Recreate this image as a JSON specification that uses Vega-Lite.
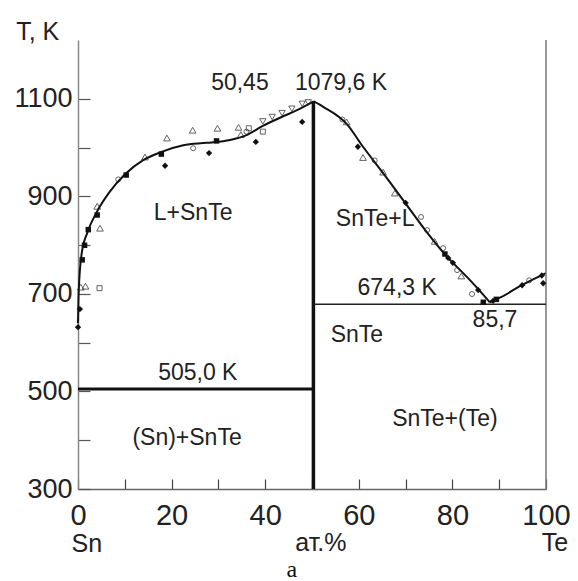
{
  "$schema": "https://vega.github.io/schema/vega-lite/v6.json",
  "width": 468,
  "height": 449,
  "autosize": "none",
  "padding": {"left": 78, "top": 40, "right": 32, "bottom": 92},
  "background": "white",
  "config": {"view": {"stroke": null}, "font": "Liberation Sans"},
  "datasets": {
    "curves": [
      {"seg": "L", "i": 0, "x": 0, "T": 640},
      {"seg": "L", "i": 1, "x": 0.15, "T": 705},
      {"seg": "L", "i": 2, "x": 0.8, "T": 784},
      {"seg": "L", "i": 3, "x": 2, "T": 826},
      {"seg": "L", "i": 4, "x": 4, "T": 868},
      {"seg": "L", "i": 5, "x": 6.8, "T": 910},
      {"seg": "L", "i": 6, "x": 10, "T": 945},
      {"seg": "L", "i": 7, "x": 14, "T": 975},
      {"seg": "L", "i": 8, "x": 18, "T": 992},
      {"seg": "L", "i": 9, "x": 22.5, "T": 1005},
      {"seg": "L", "i": 10, "x": 27.5, "T": 1010},
      {"seg": "L", "i": 11, "x": 32.5, "T": 1016},
      {"seg": "L", "i": 12, "x": 36, "T": 1026},
      {"seg": "L", "i": 13, "x": 39.5, "T": 1045},
      {"seg": "L", "i": 14, "x": 43.5, "T": 1063},
      {"seg": "L", "i": 15, "x": 46.8, "T": 1077},
      {"seg": "L", "i": 16, "x": 50.4, "T": 1095},
      {"seg": "R", "i": 0, "x": 50.4, "T": 1095},
      {"seg": "R", "i": 1, "x": 52.4, "T": 1084},
      {"seg": "R", "i": 2, "x": 57.5, "T": 1048},
      {"seg": "R", "i": 3, "x": 60.9, "T": 1002},
      {"seg": "R", "i": 4, "x": 65.2, "T": 948},
      {"seg": "R", "i": 5, "x": 69.9, "T": 887},
      {"seg": "R", "i": 6, "x": 74.6, "T": 826},
      {"seg": "R", "i": 7, "x": 78.8, "T": 777},
      {"seg": "R", "i": 8, "x": 83.1, "T": 735},
      {"seg": "R", "i": 9, "x": 85.9, "T": 706},
      {"seg": "R", "i": 10, "x": 88.0, "T": 683},
      {"seg": "Te", "i": 0, "x": 88.0, "T": 683},
      {"seg": "Te", "i": 1, "x": 90.5, "T": 694},
      {"seg": "Te", "i": 2, "x": 94.4, "T": 716},
      {"seg": "Te", "i": 3, "x": 100, "T": 743}
    ],
    "rules": [
      {"name": "frame", "x": 100, "x2": 100, "T": 300, "T2": 1221},
      {"name": "snte", "x": 50.3, "x2": 50.3, "T": 300, "T2": 1095},
      {"name": "eut1", "x": 0, "x2": 50.3, "T": 505, "T2": 505},
      {"name": "eut2", "x": 50.3, "x2": 100, "T": 679, "T2": 679}
    ],
    "points": [
      {"kind": "tri_open", "x": 19, "T": 1020},
      {"kind": "tri_open", "x": 24.5, "T": 1036},
      {"kind": "tri_open", "x": 29.8, "T": 1040},
      {"kind": "tri_open", "x": 34.3, "T": 1042},
      {"kind": "tri_open", "x": 4.7, "T": 835},
      {"kind": "tri_open", "x": 1.6, "T": 716},
      {"kind": "tri_open", "x": 0.6, "T": 714},
      {"kind": "tri_open", "x": 14.3, "T": 981},
      {"kind": "tri_open", "x": 4.1, "T": 880},
      {"kind": "tri_open", "x": 57.4, "T": 1053},
      {"kind": "tri_open", "x": 60.9, "T": 980},
      {"kind": "tri_open", "x": 65.2, "T": 950},
      {"kind": "tri_open", "x": 67.7, "T": 907},
      {"kind": "tri_open", "x": 76.2, "T": 808},
      {"kind": "tri_open", "x": 81.9, "T": 737},
      {"kind": "tri_open", "x": 34.8, "T": 1027},
      {"kind": "dia_fill", "x": 18.6, "T": 963},
      {"kind": "dia_fill", "x": 28, "T": 989},
      {"kind": "dia_fill", "x": 38, "T": 1012},
      {"kind": "dia_fill", "x": 47.9, "T": 1053},
      {"kind": "dia_fill", "x": 0, "T": 632},
      {"kind": "dia_fill", "x": 0.4, "T": 669},
      {"kind": "dia_fill", "x": 59.8, "T": 1002},
      {"kind": "dia_fill", "x": 70, "T": 887},
      {"kind": "dia_fill", "x": 79.1, "T": 774},
      {"kind": "dia_fill", "x": 80.1, "T": 764},
      {"kind": "dia_fill", "x": 85.5, "T": 708},
      {"kind": "dia_fill", "x": 88.7, "T": 686},
      {"kind": "dia_fill", "x": 94.9, "T": 718},
      {"kind": "dia_fill", "x": 99.4, "T": 722},
      {"kind": "dia_fill", "x": 99.1, "T": 738},
      {"kind": "sq_fill", "x": 4.1, "T": 862},
      {"kind": "sq_fill", "x": 2.2, "T": 832},
      {"kind": "sq_fill", "x": 1.4, "T": 800},
      {"kind": "sq_fill", "x": 0.9, "T": 770},
      {"kind": "sq_fill", "x": 10.3, "T": 944},
      {"kind": "sq_fill", "x": 17.8, "T": 987},
      {"kind": "sq_fill", "x": 29.6, "T": 1014},
      {"kind": "sq_fill", "x": 78.4, "T": 782},
      {"kind": "sq_fill", "x": 86.6, "T": 683},
      {"kind": "sq_fill", "x": 89.4, "T": 689},
      {"kind": "circ_open", "x": 8.6, "T": 935},
      {"kind": "circ_open", "x": 24.6, "T": 999},
      {"kind": "circ_open", "x": 36, "T": 1033},
      {"kind": "circ_open", "x": 63.4, "T": 974},
      {"kind": "circ_open", "x": 73.3, "T": 858},
      {"kind": "circ_open", "x": 74.6, "T": 831},
      {"kind": "circ_open", "x": 78, "T": 794},
      {"kind": "circ_open", "x": 81, "T": 749},
      {"kind": "circ_open", "x": 84.2, "T": 700},
      {"kind": "circ_open", "x": 96.4, "T": 728},
      {"kind": "circ_open", "x": 56.5, "T": 1058},
      {"kind": "sq_open", "x": 4.6, "T": 712},
      {"kind": "sq_open", "x": 39.5, "T": 1033},
      {"kind": "sq_open", "x": 36.5, "T": 1040},
      {"kind": "tri_down", "x": 39.5, "T": 1054},
      {"kind": "tri_down", "x": 41.5, "T": 1063},
      {"kind": "tri_down", "x": 43.6, "T": 1071},
      {"kind": "tri_down", "x": 45.7, "T": 1080},
      {"kind": "tri_down", "x": 47.9, "T": 1090},
      {"kind": "tri_down", "x": 49.2, "T": 1093}
    ],
    "labels": [
      {"grp": "in", "text": "50,45", "x": 34.6, "T": 1118},
      {"grp": "in", "text": "1079,6 K", "x": 56.2, "T": 1118},
      {"grp": "in", "text": "L+SnTe", "x": 24.6, "T": 852},
      {"grp": "in", "text": "SnTe+L", "x": 63.5, "T": 839},
      {"grp": "in", "text": "674,3 K", "x": 68.2, "T": 698},
      {"grp": "in", "text": "85,7", "x": 89.1, "T": 632},
      {"grp": "in", "text": "SnTe", "x": 59.6, "T": 601},
      {"grp": "in", "text": "505,0 K", "x": 25.6, "T": 524},
      {"grp": "in", "text": "(Sn)+SnTe", "x": 23.3, "T": 390},
      {"grp": "in", "text": "SnTe+(Te)", "x": 78.4, "T": 429},
      {"grp": "out", "text": "T, K", "x": -8.6, "T": 1221},
      {"grp": "out", "text": "Sn", "x": 1.9, "T": 170},
      {"grp": "out", "text": "ат.%", "x": 51.9, "T": 172},
      {"grp": "out", "text": "Te", "x": 101.9, "T": 172},
      {"grp": "serif", "text": "a", "x": 45.7, "T": 120}
    ]
  },
  "encoding": {
    "x": {"field": "x", "type": "quantitative", "scale": {"domain": [0, 100], "nice": false, "zero": false}},
    "y": {"field": "T", "type": "quantitative", "scale": {"domain": [300, 1221], "nice": false, "zero": false}}
  },
  "layer": [
    {
      "data": {"name": "curves"},
      "mark": {"type": "line", "interpolate": "monotone", "color": "#111", "strokeWidth": 2},
      "encoding": {
        "x": {"field": "x", "type": "quantitative",
          "axis": {"values": [0, 10, 20, 30, 40, 50, 60, 70, 80, 90, 100], "labelExpr": "datum.value % 20 == 0 ? datum.value : ''",
            "tickSize": -10, "labelPadding": 22, "labelFontSize": 29, "labelColor": "#222", "labelFlush": false, "labelOverlap": false,
            "domainColor": "#666", "domainWidth": 1.5, "tickColor": "#444", "tickWidth": 1.2, "title": null, "grid": false}},
        "y": {"field": "T", "type": "quantitative",
          "axis": {"values": [300, 400, 500, 600, 700, 800, 900, 1000, 1100], "labelExpr": "datum.value % 200 == 100 ? datum.value : ''",
            "tickSize": -12, "labelPadding": 18, "labelFontSize": 27, "labelColor": "#222", "labelOverlap": false,
            "domainColor": "#888", "domainWidth": 1.5, "tickColor": "#555", "tickWidth": 1.2, "title": null, "grid": false}},
        "detail": {"field": "seg"},
        "order": {"field": "i", "type": "quantitative"}
      }
    },
    {
      "data": {"name": "rules"},
      "transform": [{"filter": "datum.name == 'frame'"}],
      "mark": {"type": "rule", "color": "#777", "strokeWidth": 1.5},
      "encoding": {"x2": {"field": "x2"}, "y2": {"field": "T2"}}
    },
    {
      "data": {"name": "rules"},
      "transform": [{"filter": "datum.name == 'snte'"}],
      "mark": {"type": "rule", "color": "#111", "strokeWidth": 3.5},
      "encoding": {"x2": {"field": "x2"}, "y2": {"field": "T2"}}
    },
    {
      "data": {"name": "rules"},
      "transform": [{"filter": "datum.name == 'eut1'"}],
      "mark": {"type": "rule", "color": "#111", "strokeWidth": 3},
      "encoding": {"x2": {"field": "x2"}, "y2": {"field": "T2"}}
    },
    {
      "data": {"name": "rules"},
      "transform": [{"filter": "datum.name == 'eut2'"}],
      "mark": {"type": "rule", "color": "#222", "strokeWidth": 1.5},
      "encoding": {"x2": {"field": "x2"}, "y2": {"field": "T2"}}
    },
    {
      "data": {"name": "points"},
      "transform": [{"filter": "datum.kind == 'tri_open'"}],
      "mark": {"type": "point", "shape": "triangle-up", "filled": false, "color": "#222", "size": 45, "strokeWidth": 1}
    },
    {
      "data": {"name": "points"},
      "transform": [{"filter": "datum.kind == 'tri_down'"}],
      "mark": {"type": "point", "shape": "triangle-down", "filled": false, "color": "#222", "size": 40, "strokeWidth": 1}
    },
    {
      "data": {"name": "points"},
      "transform": [{"filter": "datum.kind == 'dia_fill'"}],
      "mark": {"type": "point", "shape": "diamond", "filled": true, "color": "#111", "size": 40, "opacity": 1}
    },
    {
      "data": {"name": "points"},
      "transform": [{"filter": "datum.kind == 'sq_fill'"}],
      "mark": {"type": "point", "shape": "square", "filled": true, "color": "#111", "size": 30, "opacity": 1}
    },
    {
      "data": {"name": "points"},
      "transform": [{"filter": "datum.kind == 'circ_open'"}],
      "mark": {"type": "point", "shape": "circle", "filled": false, "color": "#222", "size": 25, "strokeWidth": 1}
    },
    {
      "data": {"name": "points"},
      "transform": [{"filter": "datum.kind == 'sq_open'"}],
      "mark": {"type": "point", "shape": "square", "filled": false, "color": "#222", "size": 25, "strokeWidth": 1}
    },
    {
      "data": {"name": "labels"},
      "transform": [{"filter": "datum.grp == 'in'"}],
      "mark": {"type": "text", "fontSize": 23, "color": "#222", "baseline": "alphabetic", "align": "center"},
      "encoding": {"text": {"field": "text"}}
    },
    {
      "data": {"name": "labels"},
      "transform": [{"filter": "datum.grp == 'out'"}],
      "mark": {"type": "text", "fontSize": 25, "color": "#222", "baseline": "alphabetic", "align": "center"},
      "encoding": {"text": {"field": "text"}}
    },
    {
      "data": {"name": "labels"},
      "transform": [{"filter": "datum.grp == 'serif'"}],
      "mark": {"type": "text", "fontSize": 24, "font": "Liberation Serif", "color": "#111", "baseline": "alphabetic", "align": "center"},
      "encoding": {"text": {"field": "text"}}
    }
  ]
}
